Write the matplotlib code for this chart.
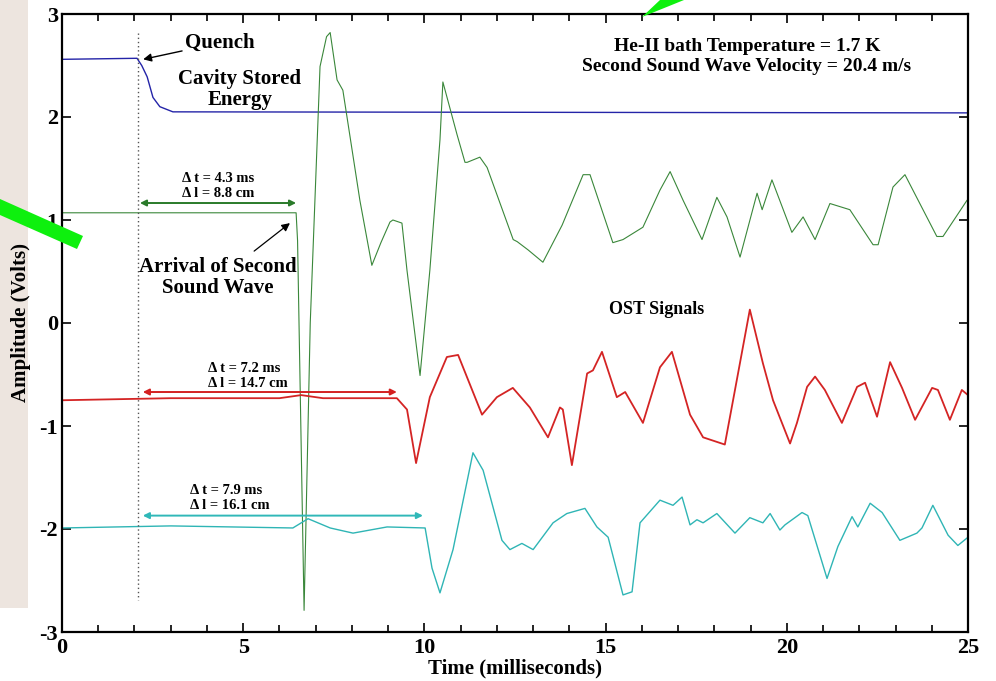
import matplotlib
matplotlib.use('Agg')
import matplotlib.pyplot as plt
from matplotlib.patches import Polygon, Rectangle

plt.rcParams['font.family'] = ['Liberation Serif', 'DejaVu Serif']
plt.rcParams['font.weight'] = 'bold'
plt.rcParams['axes.labelweight'] = 'bold'

# cavity stored energy (blue)
t_blue = [0, 2.07, 2.2, 2.35, 2.51, 2.7, 3.06, 25]
v_blue = [2.56, 2.57, 2.5, 2.39, 2.19, 2.10, 2.05, 2.04]

# OST signals
t_green = [0, 6.46, 6.50, 6.68, 6.85, 7.12, 7.30, 7.40, 7.59, 7.75, 8.22, 8.55, 8.80, 9.05,
           9.13, 9.38, 9.52, 9.88, 10.15, 10.43, 10.51, 10.90, 11.12, 11.18, 11.53, 11.73,
           12.45, 12.56, 12.86, 13.27, 13.80, 14.38, 14.57, 15.20, 15.48, 16.03, 16.50,
           16.78, 17.14, 17.66, 18.07, 18.35, 18.71, 19.18, 19.32, 19.59, 20.14, 20.45,
           20.78, 21.19, 21.74, 22.38, 22.52, 22.93, 23.26, 24.14, 24.31, 24.97, 25]
v_green = [1.07, 1.07, 0.8, -2.79, 0.0, 2.49, 2.78, 2.82, 2.36, 2.26, 1.19, 0.56, 0.78, 0.98,
           1.0, 0.97, 0.51, -0.51, 0.51, 1.78, 2.34, 1.83, 1.56, 1.56, 1.61, 1.51,
           0.81, 0.79, 0.71, 0.59, 0.95, 1.44, 1.44, 0.78, 0.81, 0.93, 1.29,
           1.47, 1.19, 0.81, 1.22, 1.03, 0.64, 1.26, 1.10, 1.39, 0.88, 1.03,
           0.81, 1.16, 1.10, 0.76, 0.76, 1.32, 1.44, 0.84, 0.84, 1.19, 1.2]

t_red = [0, 3.0, 6.0, 6.6, 7.2, 9.24, 9.52, 9.77, 10.15, 10.62, 10.93, 11.59, 12.0, 12.44,
         12.91, 13.41, 13.74, 13.82, 14.07, 14.49, 14.65, 14.90, 15.31, 15.54, 16.03,
         16.50, 16.83, 17.33, 17.69, 18.29, 18.57, 18.98, 19.34, 19.62, 20.09, 20.28,
         20.56, 20.78, 21.05, 21.52, 21.94, 22.16, 22.49, 22.85, 23.18, 23.54, 24.01,
         24.17, 24.50, 24.83, 25]
v_red = [-0.75, -0.73, -0.73, -0.70, -0.73, -0.73, -0.84, -1.36, -0.72, -0.33, -0.31, -0.89,
         -0.72, -0.63, -0.82, -1.11, -0.82, -0.84, -1.38, -0.49, -0.46, -0.28, -0.72,
         -0.67, -0.97, -0.43, -0.28, -0.89, -1.11, -1.18, -0.65, 0.13, -0.39, -0.75,
         -1.17, -0.97, -0.62, -0.52, -0.65, -0.97, -0.62, -0.58, -0.91, -0.38, -0.63,
         -0.94, -0.63, -0.65, -0.94, -0.65, -0.70]

t_cyan = [0, 3.0, 6.37, 6.79, 7.40, 8.03, 8.97, 10.02, 10.21, 10.43, 10.79, 11.34, 11.62,
          12.14, 12.36, 12.69, 13.0, 13.55, 13.93, 14.43, 14.76, 15.07, 15.48, 15.73,
          15.95, 16.50, 16.86, 17.11, 17.33, 17.52, 17.69, 18.07, 18.57, 18.98, 19.34,
          19.54, 19.81, 19.95, 20.42, 20.58, 21.11, 21.41, 21.80, 21.96, 22.30, 22.63,
          23.12, 23.59, 23.73, 24.03, 24.45, 24.72, 25]
v_cyan = [-1.99, -1.97, -1.99, -1.90, -1.99, -2.04, -1.98, -1.99, -2.38, -2.62, -2.20, -1.26,
          -1.43, -2.11, -2.20, -2.14, -2.20, -1.94, -1.85, -1.80, -1.98, -2.08, -2.64,
          -2.61, -1.94, -1.72, -1.77, -1.69, -1.96, -1.91, -1.94, -1.85, -2.04, -1.89,
          -1.94, -1.85, -2.01, -1.96, -1.84, -1.87, -2.48, -2.17, -1.88, -1.98, -1.75,
          -1.84, -2.11, -2.04, -1.99, -1.77, -2.06, -2.16, -2.08]

x_ticks = [0, 5, 10, 15, 20, 25]
y_ticks = [-3, -2, -1, 0, 1, 2, 3]

# (start, end, y, colour, label x, label y, align, label)
delays = [
    (2.15, 6.46, 1.165, '#2a7a2a', 4.30, 1.33, 'center', '\u0394 t = 4.3 ms\n\u0394 l = 8.8 cm'),
    (2.23, 9.24, -0.67, '#d42020', 4.03, -0.51, 'left', '\u0394 t = 7.2 ms\n\u0394 l = 14.7 cm'),
    (2.23, 9.96, -1.87, '#30b8b8', 3.53, -1.70, 'left', '\u0394 t = 7.9 ms\n\u0394 l = 16.1 cm'),
]

fig = plt.figure(figsize=(9.96, 6.81), dpi=100)

# beige strip on the left edge of the slide
bg = fig.add_axes([0, 0, 1, 1], zorder=-5)
bg.set_xlim(0, 996)
bg.set_ylim(681, 0)
bg.axis('off')
bg.add_patch(Rectangle((0, 0), 28, 608, color='#ede5df', lw=0))

ax = fig.add_axes([62 / 996, 1 - 632 / 681, 906 / 996, 618 / 681])
ax.patch.set_alpha(0)

ax.plot(t_blue, v_blue, color='#2424a8', lw=1.0)
ax.plot(t_green, v_green, color='#3a873a', lw=0.8)
ax.plot(t_red, v_red, color='#d42424', lw=1.3)
ax.plot(t_cyan, v_cyan, color='#2fb5b5', lw=1.0)

ax.plot([2.1, 2.1], [2.82, -2.69], color='#555555', lw=1.0, ls=(0, (1, 2)))

for x0, x1, y, c, tx, ty, ha, txt in delays:
    ax.annotate('', xy=(x1, y), xytext=(x0, y),
                arrowprops=dict(arrowstyle='<|-|>', color=c, lw=1.4,
                                mutation_scale=9, shrinkA=0, shrinkB=0))
    ax.text(tx, ty, txt, ha=ha, va='center', fontsize=10.5, linespacing=1.2)

ax.annotate('Quench', xy=(2.24, 2.56), xytext=(3.39, 2.72), fontsize=15,
            va='center', ha='left',
            arrowprops=dict(arrowstyle='-|>', color='black', lw=1.0,
                            mutation_scale=12, shrinkA=0, shrinkB=0))
ax.text(4.91, 2.27, 'Cavity Stored\nEnergy', fontsize=15, ha='center', va='center',
        linespacing=1.05)
ax.annotate('Arrival of Second\nSound Wave', xy=(6.29, 0.97), xytext=(4.30, 0.44),
            fontsize=15, ha='center', va='center', linespacing=1.05,
            arrowprops=dict(arrowstyle='-|>', color='black', lw=0.9,
                            mutation_scale=12, shrinkA=4, shrinkB=0,
                            relpos=(0.68, 1.0)))
ax.text(18.9, 2.59, 'He-II bath Temperature = 1.7 K\nSecond Sound Wave Velocity = 20.4 m/s',
        fontsize=14, ha='center', va='center', linespacing=1.2)
ax.text(16.42, 0.13, 'OST Signals', fontsize=13, ha='center', va='center')

ax.set_xlim(0, 25)
ax.set_ylim(-3, 3)
ax.set_xticks(x_ticks)
ax.set_xticks(range(26), minor=True)
ax.set_yticks(y_ticks)
ax.set_xticklabels([str(v) for v in x_ticks], fontsize=16)
ax.set_yticklabels([str(v) for v in y_ticks], fontsize=16)
ax.tick_params(which='both', direction='in', top=True, right=True, width=1.2, pad=2)
ax.tick_params(which='major', length=6.5)
ax.tick_params(which='minor', length=5)
ax.tick_params(axis='x', pad=4)
ax.tick_params(axis='y', pad=3)
for s in ax.spines.values():
    s.set_linewidth(1.6)

ax.set_xlabel('Time (milliseconds)', fontsize=15, fontweight='bold', labelpad=1)
ax.set_ylabel('Amplitude (Volts)', fontsize=15, fontweight='bold', labelpad=6)

# bright green pointer bars pasted on top of the slide
ov = fig.add_axes([0, 0, 1, 1], zorder=5)
ov.set_xlim(0, 996)
ov.set_ylim(681, 0)
ov.axis('off')
ov.add_patch(Polygon([(0, 199), (83, 236), (77, 249), (0, 215)], color='#0ef00e', lw=0))
ov.add_patch(Polygon([(642, 17), (660, 0), (684, 0)], color='#0ef00e', lw=0))

fig.savefig('out.png', dpi=100)
